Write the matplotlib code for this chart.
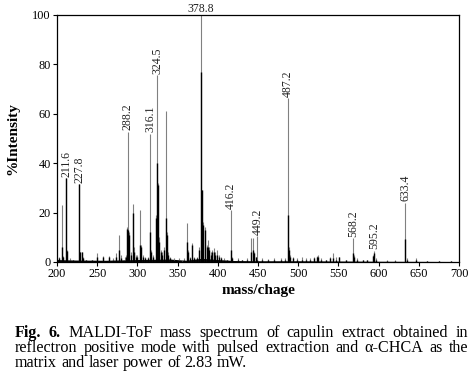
import matplotlib
matplotlib.use("Agg")
import matplotlib.pyplot as plt
import numpy as np

plt.rcParams['font.family'] = ['Liberation Serif', 'DejaVu Serif']

# ---- data ----
peak_mz = [203, 205.8, 207, 211.6, 213, 216, 220, 227.8, 229, 230.5, 232, 236, 243,
           249.5, 257, 265, 270, 273, 276.7, 280, 284, 286, 287.5, 288.2, 289.5, 292,
           294.2, 296, 298, 300, 302.8, 304, 307, 310, 313, 316.1, 317.5, 320, 323,
           324.5, 325.5, 327, 329, 331, 333, 335.2, 336.5, 338, 340, 345, 352, 355,
           358, 361.3, 362.5, 365, 368, 370, 374, 377, 378.8, 380.5, 382, 384, 386,
           387.5, 389, 391, 393, 395, 397, 399, 401, 404, 408, 412, 416.2, 418, 425,
           430, 436, 441.3, 443.4, 445, 447, 449.2, 455, 462, 470, 478, 484, 487.2,
           488.5, 490, 493, 498, 505, 510, 515, 520, 523, 525, 528, 535, 540, 543,
           547, 551, 560, 567.8, 570, 573, 580, 586, 593, 594.5, 597, 610, 620, 633.4,
           635, 647, 660, 675, 690]
peak_top = [2, 23, 2.5, 34, 5, 1.5, 1, 31.5, 4, 4, 2, 1, 1,
            3.5, 2.5, 2.5, 1.5, 3.5, 11, 3, 2, 3, 14, 52.7, 12, 4,
            23.5, 6, 3, 3, 21, 7, 3, 2, 2, 52, 5, 3, 19,
            75.7, 32, 10, 5, 4, 6, 61, 12, 4, 2, 1.5, 1.5, 1,
            1.5, 15.8, 5, 2, 7.5, 2, 2, 6, 100, 29, 16, 14, 7,
            9, 6, 4, 5, 5.5, 4, 5, 3, 2, 1.5, 1, 21, 2, 1.5,
            1, 1.5, 9.7, 9.7, 4, 2, 10.5, 1.5, 1.2, 1.5, 1.5, 1.5, 66.3,
            6, 3, 2, 1.5, 2, 1.5, 1.5, 2, 2.5, 3, 1.5, 1, 2, 3.5,
            2, 2, 1, 9.7, 3, 1.5, 1, 1, 3, 4.6, 1.5, 0.8, 0.8, 24,
            1.5, 1.5, 0.6, 0.5, 0.5]
peak_core = [1.5, 6, 2, 34, 4.5, 1, 1, 31.5, 4, 4, 1.5, 1, 1,
             2, 2, 2, 1, 2, 5, 1.5, 1, 2, 13.5, 13, 11, 3,
             20, 4, 2, 2, 7, 6, 2, 1.5, 1.5, 12, 4, 2, 18,
             40, 31, 8, 4, 3, 5, 18, 11, 3, 1.5, 1, 1, 0.5,
             1, 8, 4, 1.5, 7, 1.5, 1.5, 5, 77, 29, 15, 13, 6,
             6, 5, 3, 4, 4, 3, 3, 2, 1.5, 1, 0.8, 5, 1.5, 1,
             0.8, 1, 4, 5, 3.5, 2, 1, 1, 1, 1, 1, 1, 19,
             5, 2, 1.5, 1, 1, 1, 1, 1.5, 2, 2, 1, 0.8, 1.5, 1.5,
             1, 2, 0.8, 3.8, 2, 1, 0.8, 0.8, 2.5, 3.5, 1, 0.5, 0.5, 9.3,
             1, 1, 0.5, 0.5, 0.4]

baseline_mz = [200, 220, 260, 300, 340, 360, 380, 400, 420, 450, 500, 550, 600, 700]
baseline_int = [1.0, 0.8, 0.7, 1.0, 1.2, 0.7, 1.5, 1.0, 0.6, 0.5, 0.5, 0.4, 0.3, 0.2]

label_mz = [211.6, 227.8, 288.2, 316.1, 324.5, 416.2, 449.2, 487.2, 568.2, 595.2, 633.4]
label_txt = ["211.6", "227.8", "288.2", "316.1", "324.5", "416.2", "449.2", "487.2",
             "568.2", "595.2", "633.4"]
label_y = [34, 31.5, 52.7, 52, 75.7, 21, 10.5, 66.3, 9.7, 4.6, 24]
base_peak_mz = 378.8
base_peak_txt = "378.8"

x_ticks = [200, 250, 300, 350, 400, 450, 500, 550, 600, 650, 700]
y_ticks = [0, 20, 40, 60, 80, 100]

# ---- figure ----
W, H = 472, 380
fig = plt.figure(figsize=(W / 100, H / 100), dpi=100)
ax = fig.add_axes([57 / W, (H - 262) / H, (459 - 57) / W, (262 - 15) / H])

ax.fill_between(baseline_mz, 0, baseline_int, color='black', lw=0)
ax.vlines(peak_mz, 0, peak_top, color='#808080', lw=0.8)
ax.vlines(peak_mz, 0, peak_core, color='black', lw=1.0)

for m, t, y in zip(label_mz, label_txt, label_y):
    ax.text(m, y + 0.6, t, rotation=90, ha='center', va='bottom', fontsize=8.5,
            color='#222222')
ax.text(base_peak_mz, 100.2, base_peak_txt, ha='center', va='bottom', fontsize=8.5,
        color='#222222', clip_on=False)

ax.set_xlim(200, 700)
ax.set_ylim(0, 100)
ax.set_xticks(x_ticks)
ax.set_yticks(y_ticks)
ax.tick_params(direction='out', length=3, width=0.8, labelsize=8.8, pad=1.5,
               top=False, right=False)
for s in ax.spines.values():
    s.set_linewidth(0.9)

ax.set_xlabel("mass/chage", fontsize=11, fontweight='bold', labelpad=3)
ax.set_ylabel("%Intensity", fontsize=11, fontweight='bold', labelpad=9)

# ---- caption with justified lines ----
renderer = fig.canvas.get_renderer()
x0, x1 = 15 / W, 468 / W
cap_fs = 11.6


def place_line(words, y, justify):
    texts = []
    for w, bold in words:
        t = fig.text(0, y, w, fontsize=cap_fs, fontweight='bold' if bold else 'normal',
                     va='center', ha='left')
        texts.append(t)
    widths = [t.get_window_extent(renderer).width / W for t in texts]
    total = sum(widths)
    if justify and len(texts) > 1:
        gap = (x1 - x0 - total) / (len(texts) - 1)
    else:
        sp = fig.text(0, 0, "a b", fontsize=cap_fs)
        sa = fig.text(0, 0, "ab", fontsize=cap_fs)
        gap = (sp.get_window_extent(renderer).width - sa.get_window_extent(renderer).width) / W
        sp.remove(); sa.remove()
    x = x0
    for t, w in zip(texts, widths):
        t.set_x(x)
        x += w + gap


line1 = [("Fig.", True), ("6.", True)] + [(w, False) for w in
         "MALDI-ToF mass spectrum of capulin extract obtained in".split()]
line2 = [(w, False) for w in
         "reflectron positive mode with pulsed extraction and \u03b1-CHCA as the".split()]
line3 = [(w, False) for w in "matrix and laser power of 2.83 mW.".split()]

place_line(line1, (H - 333) / H, True)
place_line(line2, (H - 348) / H, True)
place_line(line3, (H - 363) / H, False)

fig.savefig("out.png", dpi=100)
